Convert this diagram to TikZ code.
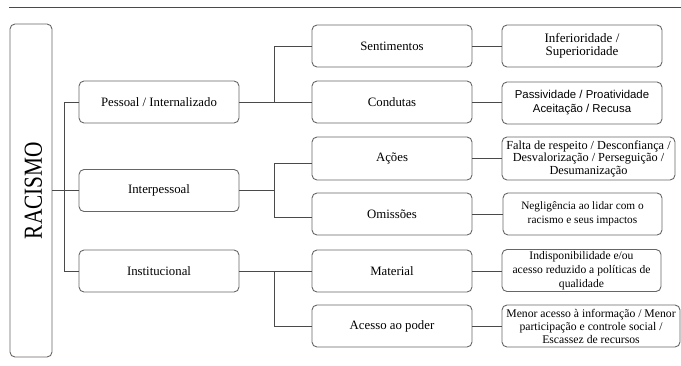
\documentclass[tikz,border=0pt]{standalone}
\usepackage{fontspec}
\setmainfont{Liberation Serif}
\newfontfamily\sansf{Liberation Sans}
\usepackage{graphicx}
\definecolor{boxc}{HTML}{666666}
\definecolor{linec}{HTML}{4A4A4A}
\begin{document}
\begin{tikzpicture}[x=1bp,y=-1bp,
  box/.style={draw=boxc, line width=0.9bp, rounded corners=5bp, minimum height=42bp, inner sep=0pt, align=center, text=black},
  midbox/.style={box, minimum width=160bp, font=\fontsize{12.8bp}{15bp}\selectfont},
  leafbox/.style={box, minimum width=160bp},
  lnk/.style={draw=linec, line width=0.9bp}]
\useasboundingbox (0,0) rectangle (681,365);
\draw[line width=1.4bp, draw=linec] (9,7.5) -- (681,7.5);

% root
\node[box, minimum width=42bp, minimum height=333bp] (rac) at (31,190.5)
  {\hspace*{5bp}\rotatebox{90}{\scalebox{0.82}[1]{\fontsize{26bp}{26bp}\selectfont RACISMO}}};

% level 1
\node[midbox] (pes) at (159,102) {Pessoal / Internalizado};
\node[midbox] (inter) at (159,190.5) {Interpessoal};
\node[midbox] (inst) at (159,271) {Institucional};

% level 2
\node[midbox] (sent) at (392,46) {Sentimentos};
\node[midbox] (cond) at (392,102) {Condutas};
\node[midbox, minimum height=43bp] (acoes) at (392,158.5) {Ações};
\node[midbox] (omis) at (392,214) {Omissões};
\node[midbox] (mat) at (392,271) {Material};
\node[midbox] (poder) at (392,326) {Acesso ao poder};

% level 3
\node[leafbox, font=\fontsize{13bp}{13.5bp}\selectfont] (inf) at (582,46) {Inferioridade /\\Superioridade};
\node[leafbox, font=\sansf\fontsize{11.4bp}{14bp}\selectfont] (pass) at (582,103) {Passividade / Proatividade\\Aceitação / Recusa};
\node[leafbox, minimum width=173bp, minimum height=43bp, font=\fontsize{12.3bp}{12.5bp}\selectfont] (falta) at (588.5,158.5) {Falta de respeito / Desconfiança /\\Desvalorização / Perseguição /\\Desumanização};
\node[leafbox, minimum width=159bp, font=\fontsize{11.3bp}{14bp}\selectfont] (neg) at (582.5,214) {Negligência ao lidar com o\\racismo e seus impactos};
\node[leafbox, minimum width=159bp, font=\fontsize{11.6bp}{13.8bp}\selectfont] (indisp) at (581.5,270.5) {Indisponibilidade e/ou\\acesso reduzido a políticas de\\qualidade};
\node[leafbox, minimum width=178bp, font=\fontsize{11.7bp}{13bp}\selectfont] (menor) at (591,326) {Menor acesso à informação / Menor\\participação e controle social /\\Escassez de recursos};

% connectors root -> level 1
\draw[lnk] (pes.west) -- ++(-14,0) |- (inst.west);
\draw[lnk] (rac.east |- inter.west) -- (inter.west);

% level 1 -> level 2
\draw[lnk] (pes.east) -- (cond.west);
\draw[lnk] (sent.west) -- ++(-37,0) |- (cond.west);

\coordinate (j2) at (274.5,190.5);
\draw[lnk] (inter.east) -- (j2);
\draw[lnk] ([yshift=-4.5bp]acoes.west) -| (j2) |- ([yshift=-3bp]omis.west);

\draw[lnk] (inst.east) -- (mat.west);
\draw[lnk] (mat.west) ++(-37,0) |- (poder.west);

% level 2 -> level 3
\draw[lnk] (sent.east) -- (sent.east -| inf.west);
\draw[lnk] (cond.east) -- (cond.east -| pass.west);
\draw[lnk] (acoes.east) -- (acoes.east -| falta.west);
\draw[lnk] (omis.east) -- (omis.east -| neg.west);
\draw[lnk] (mat.east) -- (mat.east -| indisp.west);
\draw[lnk] (poder.east) -- (poder.east -| menor.west);
\end{tikzpicture}
\end{document}
